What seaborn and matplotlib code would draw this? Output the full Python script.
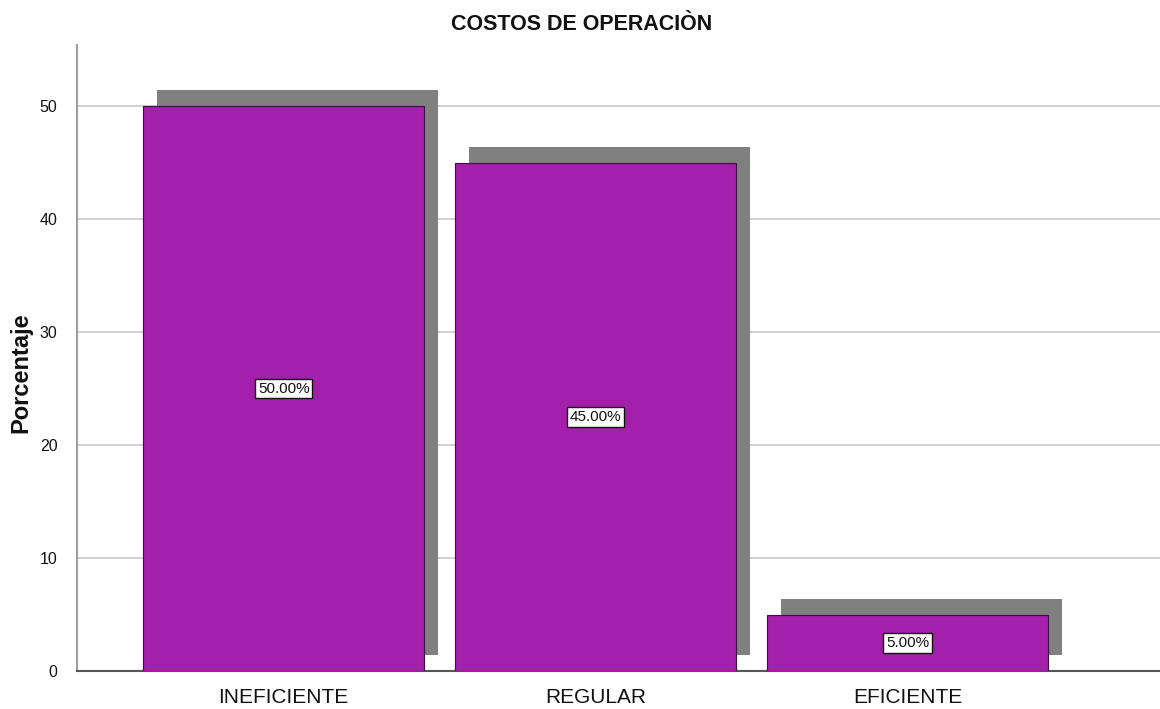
import matplotlib
matplotlib.use("Agg")
import matplotlib.pyplot as plt
import matplotlib.transforms as mtransforms
from matplotlib.patches import Rectangle
import seaborn as sns
import pandas as pd

categories = ["INEFICIENTE", "REGULAR", "EFICIENTE"]
values = [50.0, 45.0, 5.0]
labels = ["50.00%", "45.00%", "5.00%"]
title = "COSTOS DE OPERACIÒN"
ylabel = "Porcentaje"
yticks = [0, 10, 20, 30, 40, 50]

sns.set_theme(style="white")
plt.rcParams['font.family'] = ['Liberation Sans', 'DejaVu Sans']

df = pd.DataFrame({"cat": categories, "val": values})

W, H = 1160, 709
fig = plt.figure(figsize=(W/100, H/100), dpi=100)
ax = fig.add_axes([77/W, 1 - 671/H, 1 - 77/W, (671-45)/H])

sns.barplot(data=df, x="cat", y="val", color="#A41FAC", width=0.9,
            edgecolor="#3a1040", linewidth=0.8, saturation=1, ax=ax, zorder=3)

ax.set_xlim(-0.663, 2.81)
ax.set_ylim(0, 55.4)

# shadows
offset = mtransforms.ScaledTranslation(14/100, 16/100, fig.dpi_scale_trans)
for p in list(ax.patches):
    sh = Rectangle((p.get_x(), p.get_y()), p.get_width(), p.get_height(),
                   facecolor="#808080", edgecolor="none",
                   transform=ax.transData + offset, zorder=2)
    ax.add_patch(sh)

for i, (v, lab) in enumerate(zip(values, labels)):
    ax.text(i, v / 2, lab, ha="center", va="center", fontsize=11, color="#111111",
            zorder=5,
            bbox=dict(boxstyle="square,pad=0.18", facecolor="white", edgecolor="#111111", linewidth=1))

ax.set_yticks(yticks)
ax.yaxis.grid(True, color="#c8c8c8", linewidth=1.2, zorder=0)
ax.set_axisbelow(True)
for s in ["top", "right"]:
    ax.spines[s].set_visible(False)
ax.spines["left"].set_color("#a0a0a0")
ax.spines["left"].set_linewidth(1.5)
ax.spines["bottom"].set_color("#555555")
ax.spines["bottom"].set_linewidth(1.5)

ax.tick_params(axis="y", length=0, labelsize=11.5, pad=14, colors="#111111")
ax.tick_params(axis="x", length=0, labelsize=15, pad=12, colors="#111111")
ax.set_xlabel("")
ax.set_ylabel("")
fig.text(21/W, 1 - 373/H, ylabel, rotation=90, ha="center", va="center",
         fontsize=17, fontweight="bold", color="#111111")
fig.text(582/W, 1 - 25/H, title, ha="center", va="center",
         fontsize=15.5, fontweight="bold", color="#111111")

fig.savefig("out.png", dpi=100)
